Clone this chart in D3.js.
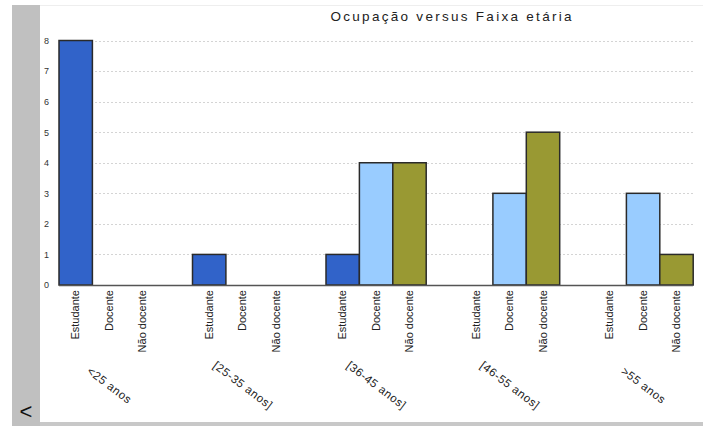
<!DOCTYPE html>
<html><head><meta charset="utf-8">
<script src="https://cdn.jsdelivr.net/npm/d3@7"></script>
<style>
html,body{margin:0;padding:0;background:#fff;}
svg{display:block;font-family:"Liberation Sans",Arial,sans-serif;}
</style></head>
<body>
<svg id="c" width="703" height="426"></svg>
<script>
const title = "Ocupação versus Faixa etária";
const groups = ["<25 anos","[25-35 anos]","[36-45 anos]","[46-55 anos]",">55 anos"];
const occupations = ["Estudante","Docente","Não docente"];
const estudante = [8,1,1,0,0];
const docente = [0,0,4,3,3];
const naoDocente = [0,0,4,5,1];
const yTicks = [0,1,2,3,4,5,6,7,8];
const colors = ["#3163c9","#99ccff","#999933"];

const series = [estudante, docente, naoDocente];
const svg = d3.select("#c");

// frame elements
svg.append("rect").attr("x",12).attr("y",5).attr("width",28).attr("height",421).attr("fill","#c0c0c0");
svg.append("rect").attr("x",40).attr("y",422).attr("width",663).attr("height",4).attr("fill","#c8c8c8");
svg.append("line").attr("x1",40).attr("x2",703).attr("y1",5.5).attr("y2",5.5).attr("stroke","#eeeeee");
svg.append("text").attr("x",26).attr("y",419).attr("text-anchor","middle")
  .attr("font-size",22).attr("fill","#111").text("<");

const x0 = d3.scaleBand().domain(groups).range([59, 59 + 5*133.5]).paddingInner(0).paddingOuter(0);
const x1 = d3.scaleBand().domain(occupations).range([0, 100.2]);
const y = d3.scaleLinear().domain([0,8]).range([285, 40.5]);
const plotRight = 693;

// gridlines
svg.append("g").selectAll("line").data(yTicks.filter(d=>d>0)).join("line")
  .attr("x1",59).attr("x2",plotRight)
  .attr("y1",d=>Math.round(y(d))+0.5).attr("y2",d=>Math.round(y(d))+0.5)
  .attr("stroke","#d4d4d4").attr("stroke-dasharray","2,2");

// y axis labels
const yAxis = d3.axisLeft(y).tickValues(yTicks).tickSize(0).tickFormat(d3.format("d"));
const ya = svg.append("g").attr("transform","translate(52,0)").call(yAxis);
ya.select(".domain").remove();
ya.selectAll("text").attr("font-size",9).attr("fill","#333").attr("font-family","Liberation Sans, Arial, sans-serif");

// bars
const flat = [];
groups.forEach((g,gi)=>occupations.forEach((o,oi)=>flat.push({g,o,oi,v:series[oi][gi]})));
svg.append("g").selectAll("rect").data(flat.filter(d=>d.v>0)).join("rect")
  .attr("x",d=>x0(d.g)+x1(d.o))
  .attr("y",d=>y(d.v))
  .attr("width",x1.bandwidth())
  .attr("height",d=>y(0)-y(d.v))
  .attr("fill",d=>colors[d.oi])
  .attr("stroke","#2a2a2a").attr("stroke-width",1.5);

// baseline
svg.append("line").attr("x1",59).attr("x2",plotRight).attr("y1",285.5).attr("y2",285.5)
  .attr("stroke","#555").attr("stroke-width",1.5);

// occupation labels (vertical)
svg.append("g").selectAll("text").data(flat).join("text")
  .attr("transform",d=>`translate(${x0(d.g)+x1(d.o)+x1.bandwidth()/2+3.5},290) rotate(-90)`)
  .attr("text-anchor","end").attr("font-size",11).attr("fill","#222")
  .text(d=>d.o);

// group labels (diagonal)
svg.append("g").selectAll("text").data(groups).join("text")
  .attr("transform",d=>`translate(${x0(d)+50},386) rotate(37)`)
  .attr("text-anchor","middle").attr("dominant-baseline","middle")
  .attr("font-size",11.5).attr("fill","#222").attr("letter-spacing",0.6)
  .text(d=>d);

// title
svg.append("text").attr("x",451).attr("y",21).attr("text-anchor","middle")
  .attr("font-size",13.5).attr("fill","#222").attr("textLength",241).attr("lengthAdjust","spacing")
  .text(title);
</script>
</body></html>
